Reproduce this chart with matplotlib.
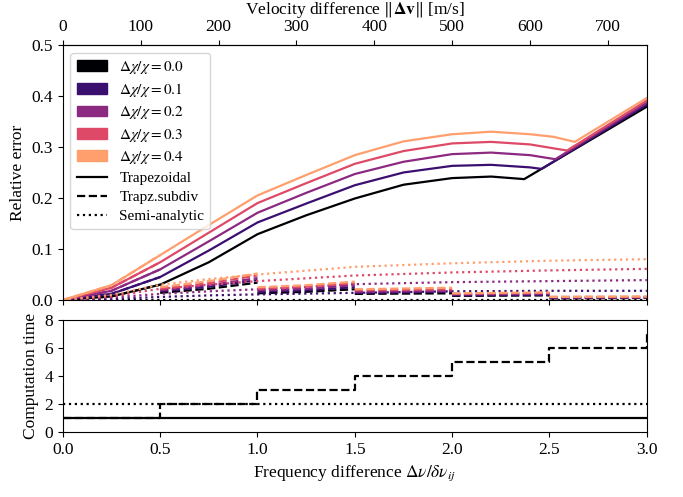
import numpy as np
import matplotlib
matplotlib.use("Agg")
import matplotlib.pyplot as plt
from matplotlib.patches import Patch
from matplotlib.lines import Line2D

plt.rcParams['font.family'] = ['Liberation Serif', 'DejaVu Serif']
plt.rcParams['mathtext.fontset'] = 'stix'
plt.rcParams['font.size'] = 12.5

# line width spread
dchi = [0.0, 0.1, 0.2, 0.3, 0.4]

# trapezoidal rule, smooth part up to the peak
trap_freq = [0.0, 0.25, 0.5, 0.75, 1.0, 1.25, 1.5, 1.75, 2.0, 2.2]
trap_err = [
    [0.0, 0.007, 0.030, 0.074, 0.129, 0.166, 0.199, 0.226, 0.239, 0.242],
    [0.0, 0.012, 0.045, 0.097, 0.152, 0.189, 0.225, 0.250, 0.263, 0.265],
    [0.0, 0.018, 0.060, 0.115, 0.171, 0.210, 0.247, 0.271, 0.286, 0.289],
    [0.0, 0.024, 0.074, 0.132, 0.190, 0.229, 0.267, 0.292, 0.307, 0.310],
    [0.0, 0.029, 0.088, 0.147, 0.205, 0.245, 0.284, 0.311, 0.325, 0.330],
]
# past the peak: drop to the kink, then the straight rise to the edge
tail_freq = [
    [2.37, 3.0],
    [2.4, 2.46, 3.0],
    [2.4, 2.53, 3.0],
    [2.4, 2.59, 3.0],
    [2.4, 2.52, 2.63, 3.0],
]
tail_err = [
    [0.237, 0.379],
    [0.260, 0.257, 0.383],
    [0.284, 0.276, 0.387],
    [0.305, 0.293, 0.391],
    [0.325, 0.320, 0.310, 0.396],
]

# trapezoidal with subdivisions (one extra subdivision every 0.5),
# nan splits the pieces
subdiv_freq = [0.5, 0.75, 1.0, np.nan, 1.0, 1.25, 1.5, np.nan, 1.5, 2.0, np.nan,
               2.0, 2.5, np.nan, 2.5, 3.0]
subdiv_err = [
    [0.014, 0.022, 0.034, np.nan, 0.013, 0.016, 0.021, np.nan, 0.012, 0.013, np.nan,
     0.008, 0.009, np.nan, 0.003, 0.004],
    [0.017, 0.026, 0.039, np.nan, 0.016, 0.019, 0.025, np.nan, 0.014, 0.016, np.nan,
     0.009, 0.010, np.nan, 0.004, 0.005],
    [0.019, 0.029, 0.043, np.nan, 0.019, 0.022, 0.029, np.nan, 0.016, 0.018, np.nan,
     0.011, 0.012, np.nan, 0.005, 0.005],
    [0.022, 0.033, 0.048, np.nan, 0.022, 0.026, 0.033, np.nan, 0.019, 0.021, np.nan,
     0.012, 0.014, np.nan, 0.006, 0.006],
    [0.025, 0.037, 0.052, np.nan, 0.025, 0.029, 0.036, np.nan, 0.021, 0.024, np.nan,
     0.013, 0.015, np.nan, 0.006, 0.007],
]

# semi-analytic
semi_freq = [0.0, 0.25, 0.5, 0.75, 1.0, 1.5, 2.0, 2.5, 3.0]
semi_err = [
    [0.0, 0.0, 0.0, 0.0, 0.0, 0.0, 0.0, 0.0, 0.0],
    [0.0, 0.002, 0.006, 0.009, 0.011, 0.014, 0.017, 0.018, 0.018],
    [0.0, 0.005, 0.012, 0.017, 0.021, 0.031, 0.035, 0.037, 0.039],
    [0.0, 0.007, 0.022, 0.030, 0.037, 0.048, 0.054, 0.058, 0.061],
    [0.0, 0.010, 0.030, 0.041, 0.050, 0.065, 0.072, 0.077, 0.080],
]

# computation time
time_freq = [0.0, 0.5, 1.0, 1.5, 2.0, 2.5, 3.0]
time_trap = [1, 1, 1, 1, 1, 1, 1]
time_subdiv = [1, 2, 3, 4, 5, 6, 7]
time_semi = [2, 2, 2, 2, 2, 2, 2]

dv_per_freq = 250.0  # m/s per unit of frequency difference

fig = plt.figure(figsize=(6.83, 4.97), dpi=100)
ax = fig.add_axes([0.092, 0.3964, 0.855, 0.5131])
ax2 = fig.add_axes([0.092, 0.1308, 0.855, 0.2254], sharex=ax)

cols = [plt.cm.magma(i / 5) for i in range(5)]
lw = 1.6
for i in range(len(dchi)):
    fx = trap_freq + tail_freq[i]
    fy = trap_err[i] + tail_err[i]
    ax.plot(fx, fy, color=cols[i], lw=lw, ls='-')
    sx = trap_freq[:3] + [np.nan] + subdiv_freq
    sy = trap_err[i][:3] + [np.nan] + subdiv_err[i]
    ax.plot(sx, sy, color=cols[i], lw=lw, ls='--')
    ax.plot(semi_freq, semi_err[i], color=cols[i], lw=lw, ls=':')

ax.set_xlim(0, 3)
ax.set_ylim(0, 0.5)
ax.set_xticks(np.arange(0, 3.01, 0.5))
ax.tick_params(labelbottom=False)
ax.set_ylabel('Relative error')

top = ax.secondary_xaxis('top', functions=(lambda f: f * dv_per_freq, lambda v: v / dv_per_freq))
top.set_xticks(np.arange(0, 701, 100))
top.set_xlabel(r'Velocity difference $\|\mathbf{\Delta v}\|$ [m/s]')

handles = [Patch(color=cols[i], label=r'$\Delta\chi/\chi = %.1f$' % dchi[i]) for i in range(5)]
handles += [Line2D([], [], color='k', lw=lw, ls='-', label='Trapezoidal'),
            Line2D([], [], color='k', lw=lw, ls='--', label='Trapz.subdiv'),
            Line2D([], [], color='k', lw=lw, ls=':', label='Semi-analytic')]
ax.legend(handles=handles, loc='upper left', fontsize=11, labelspacing=0.35)

ax2.plot(time_freq, time_trap, color='k', lw=lw, ls='-')
ax2.plot(time_freq, time_subdiv, color='k', lw=lw, ls='--', drawstyle='steps-post')
ax2.plot(time_freq, time_semi, color='k', lw=lw, ls=':')
ax2.set_ylim(0, 8)
ax2.set_yticks([0, 2, 4, 6, 8])
ax2.set_xlim(0, 3)
ax2.set_ylabel('Computation time')
ax2.set_xlabel(r'Frequency difference $\Delta\nu/\delta\nu_{ij}$')

fig.savefig('out.png', dpi=100)
